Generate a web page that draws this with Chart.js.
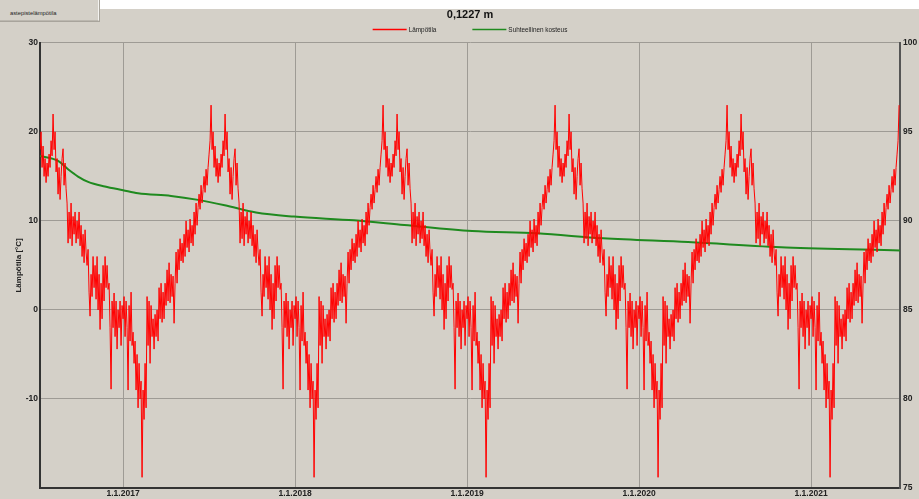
<!DOCTYPE html>
<html>
<head>
<meta charset="utf-8">
<script src="https://cdn.jsdelivr.net/npm/chart.js@4"></script>
<style>
  html, body { margin: 0; padding: 0; }
  body { width: 919px; height: 499px; background: #d4d0c8; position: relative; overflow: hidden; font-family: "Liberation Sans", Arial, sans-serif; }
  #topband { position: absolute; left: 0; top: 0; width: 919px; height: 9px; background: #ffffff; }
  #tab { position: absolute; left: -1px; top: -1px; width: 100px; height: 22px; background: #d4d0c8; border: 1px solid #bbb7af; border-right-color: #f4f3f0; box-shadow: 1px 1px 0 #a8a49c; box-sizing: border-box; }
  #tab span { position: absolute; left: 10px; top: 10px; font-size: 5.8px; color: #222; }
  #chart { position: absolute; left: 0; top: 0; }
</style>
</head>
<body>
<div id="topband"></div>
<div id="tab"><span>astepistelämpötila</span></div>
<canvas id="chart" width="919" height="499"></canvas>
<script>
// one reference year of temperature (same year repeats), about every 2 days from 1.1.
const tempYear = [
  -1, 1.5, -3, 1, -2, -9, 0.5, -3.5, 2, -4,
  -2.5, -6, -3.5, -9, -5, -11, -6, -10, -8, -18.8,
  -9, -12.3, -6, -11, 1.5, -4, 1, -6, 0.5, -3,
  -1, -4.4, -0.5, -3, 0, -3.5, 2.5, -1, 3, -1.4,
  2, -1, 3, 0.5, 4.5, 1, 5.3, 0.8, 4, 1.5,
  3.8, -1.5, 3, 6.5, 3, 6.8, 4.5, 8, 5.5, 7.5,
  5.3, 8.5, 6, 10, 7, 9, 6.5, 10.2, 7.5, 9.5,
  7.2, 11, 8.5, 12, 9.5, 11.5, 13, 11.3, 14, 12,
  13.5, 15, 13.2, 15.8, 14, 16, 17.5, 19, 23, 18,
  20, 16, 18.4, 15, 17, 14.3, 16.5, 15, 17.5, 16,
  19, 17.3, 22, 18, 20, 15.5, 17, 13, 16, 12.4,
  15, 17, 18.1, 14, 16.5, 13.6, 12, 7.5, 11, 8,
  12, 7.2, 10.5, 8.5, 11, 7.5, 10, 8, 11, 7.2,
  9.5, 6, 8.5, 5.3, 9, 6.5, 5, 6.8, 2, -0.7,
  4, 1.5, 6, 2.5, 5, 1.2, 6, 0, 4, -2.2,
  3, -1, 5, 1, 6, 2.5, 5, 2.3, 3, -2,
  -8.9, 1, -2, 1.9, -3, 1, -4.4, 0, -2, 1, -4, 0.5
];
const years = [2016, 2017, 2018, 2019, 2020, 2021];

// relative humidity (%), read at these dates (decimal years)
const humX = [2016.517, 2016.622, 2016.680, 2016.738, 2016.797, 2016.894, 2017.0, 2017.087,
  2017.279, 2017.436, 2017.591, 2017.773, 2017.994, 2018.343, 2018.634, 2019.029,
  2019.407, 2019.791, 2020.285, 2020.855, 2021.517];
const humValues = [93.65, 93.37, 92.9, 92.49, 92.19, 91.93, 91.72, 91.55,
  91.4, 91.18, 90.88, 90.47, 90.24, 90.03, 89.77, 89.43,
  89.30, 89.02, 88.81, 88.51, 88.34];

const yearTicks = [2017, 2018, 2019, 2020, 2021];
const tempTicks = [-20, -10, 0, 10, 20, 30];
const humTicks = [75, 80, 85, 90, 95, 100];
const xMin = 2016.517, xMax = 2021.517;

const tempPoints = [];
years.forEach(function(y) {
  tempYear.forEach(function(v, i) {
    const x = y + i / tempYear.length;
    if (x >= xMin && x <= xMax) tempPoints.push({x: x, y: v});
  });
});
const humPoints = humX.map(function(x, i) { return {x: x, y: humValues[i]}; });

const gridColor = '#9e9b95';
const tickFont = {family: '"Liberation Sans", Arial, sans-serif', size: 8.5, weight: 'bold'};

// legend drawn as short lines + label, centered over the plot
const lineLegend = {
  id: 'lineLegend',
  afterDraw(chart) {
    const ctx = chart.ctx, area = chart.chartArea;
    ctx.save();
    ctx.font = '6.4px "Liberation Sans", Arial, sans-serif';
    ctx.textBaseline = 'middle';
    const items = chart.data.datasets;
    let total = 0;
    items.forEach(function(d, i) { total += 34 + 2 + ctx.measureText(d.label).width + (i ? 36 : 0); });
    let x = (area.left + area.right) / 2 - total / 2;
    const y = 29.5;
    items.forEach(function(d) {
      ctx.strokeStyle = d.borderColor;
      ctx.lineWidth = 1.5;
      ctx.beginPath(); ctx.moveTo(x, y); ctx.lineTo(x + 34, y); ctx.stroke();
      ctx.fillStyle = '#222';
      ctx.fillText(d.label, x + 36, y + 0.5);
      x += 36 + ctx.measureText(d.label).width + 36;
    });
    ctx.restore();
  }
};

new Chart(document.getElementById('chart'), {
  type: 'line',
  data: {
    datasets: [{
      label: 'Lämpötila',
      data: tempPoints,
      yAxisID: 'y',
      borderColor: '#ff0000',
      backgroundColor: '#ff0000',
      borderWidth: 1,
      pointRadius: 0,
      tension: 0
    }, {
      label: 'Suhteellinen kosteus',
      data: humPoints,
      yAxisID: 'y1',
      borderColor: '#1f8a1f',
      backgroundColor: '#1f8a1f',
      borderWidth: 2,
      pointRadius: 0,
      cubicInterpolationMode: 'monotone'
    }]
  },
  options: {
    responsive: false,
    animation: false,
    events: [],
    layout: {padding: 0},
    plugins: {
      legend: {display: false},
      tooltip: {enabled: false},
      title: {
        display: true,
        text: '0,1227 m',
        fullSize: false,
        color: '#111',
        font: {family: '"Liberation Sans", Arial, sans-serif', size: 11, weight: 'bold'},
        padding: {top: 8, bottom: 21.6}
      }
    },
    scales: {
      x: {
        type: 'linear',
        min: xMin,
        max: xMax,
        afterBuildTicks: function(s) { s.ticks = yearTicks.map(function(v) { return {value: v}; }); },
        afterFit: function(s) { s.height = 11; },
        ticks: {callback: function(v) { return '1.1.' + v; }, maxRotation: 0, autoSkip: false, padding: 1, font: tickFont, color: '#222'},
        grid: {color: gridColor, drawTicks: false},
        border: {color: '#333', width: 2}
      },
      y: {
        position: 'left',
        min: -20,
        max: 30,
        afterBuildTicks: function(s) { s.ticks = tempTicks.map(function(v) { return {value: v}; }); },
        afterFit: function(s) { s.width = 40; },
        ticks: {callback: function(v) { return v === -20 ? '' : v; }, padding: 2, font: tickFont, color: '#222'},
        grid: {color: gridColor, drawTicks: false},
        border: {color: '#333', width: 2},
        title: {display: true, text: 'Lämpötila [°C]', color: '#222', font: {family: '"Liberation Sans", Arial, sans-serif', size: 8, weight: 'bold'}, padding: {top: 14, bottom: 0}}
      },
      y1: {
        position: 'right',
        min: 75,
        max: 100,
        afterBuildTicks: function(s) { s.ticks = humTicks.map(function(v) { return {value: v}; }); },
        afterFit: function(s) { s.width = 19; },
        ticks: {padding: 3, font: tickFont, color: '#222'},
        grid: {drawOnChartArea: false, drawTicks: false},
        border: {color: '#555', width: 2}
      }
    }
  },
  plugins: [lineLegend]
});
</script>
</body>
</html>
